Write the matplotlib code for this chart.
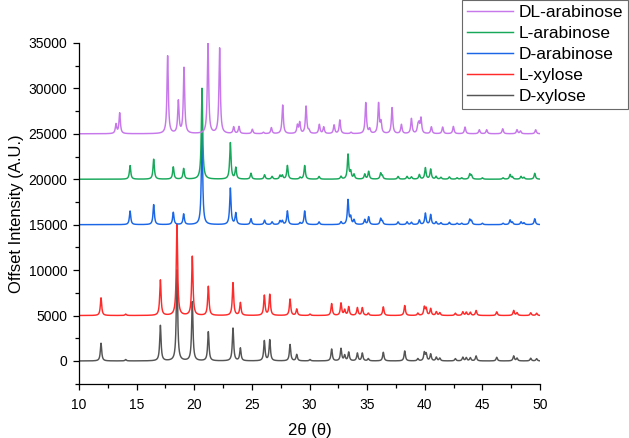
import matplotlib
matplotlib.use('Agg')
import matplotlib.pyplot as plt
import numpy as np
from matplotlib.ticker import MultipleLocator

plt.rcParams['font.family'] = ['Liberation Sans', 'DejaVu Sans']

# peak positions (2theta, deg) and heights (A.U.)
# D- and L-xylose give the same pattern, so do D- and L-arabinose
xylose_pos = [11.91, 14.05, 17.06, 18.50, 19.83, 21.22, 23.36, 24.00, 26.08, 26.55,
              28.31, 28.89, 30.04, 31.92, 32.73, 33.05, 33.40, 34.15, 34.58, 35.10,
              36.40, 38.26, 39.40, 39.96, 40.12, 40.51, 41.00, 41.30, 42.65, 43.30,
              43.60, 43.95, 44.45, 46.24, 47.71, 48.00, 49.19, 49.70]
xylose_int = [1950, 150, 3900, 10000, 6500, 3200, 3600, 1400, 2200, 2300,
              1800, 700, 150, 1300, 1350, 600, 950, 850, 850, 250,
              950, 1100, 250, 900, 750, 750, 400, 300, 250, 400,
              350, 350, 550, 400, 550, 300, 300, 250]

arabinose_pos = [14.43, 16.48, 18.18, 19.08, 20.67, 23.13, 23.60, 24.92, 26.10, 26.75,
                 27.44, 27.64, 28.08, 29.18, 29.58, 30.83, 32.73, 33.34, 33.57, 33.86,
                 34.79, 35.13, 36.17, 36.32, 37.68, 38.46, 38.84, 39.53, 40.05, 40.51,
                 40.98, 41.40, 42.13, 42.80, 43.20, 43.90, 44.05, 45.00, 46.79, 47.40,
                 47.60, 48.35, 48.60, 49.54]
arabinose_int = [1500, 2200, 1350, 1170, 10000, 4000, 1250, 650, 480, 300,
                 400, 400, 1500, 200, 1500, 300, 300, 2700, 800, 500,
                 550, 850, 650, 350, 300, 300, 250, 500, 1250, 1100,
                 300, 200, 250, 150, 150, 550, 400, 150, 150, 500,
                 250, 300, 200, 650]

dl_arabinose_pos = [13.21, 13.53, 17.69, 18.62, 19.11, 21.19, 22.20, 23.42, 23.88, 25.04,
                    26.00, 26.69, 27.67, 28.95, 29.15, 29.70, 29.95, 30.85, 31.23, 32.13,
                    32.63, 33.60, 34.88, 35.22, 35.99, 36.20, 37.16, 37.97, 38.84, 39.40,
                    39.50, 39.67, 40.57, 41.55, 42.48, 43.49, 44.73, 45.37, 46.76, 48.00,
                    48.30, 49.62]
dl_arabinose_int = [1030, 2270, 8550, 3540, 7220, 9950, 9400, 730, 770, 480,
                    150, 660, 3150, 900, 1200, 3000, 300, 1000, 730, 950,
                    1500, 150, 3400, 500, 3300, 1200, 2850, 1000, 1650, 800,
                    900, 1650, 750, 730, 800, 730, 440, 440, 550, 440,
                    300, 440]

labels = ['D-xylose', 'L-xylose', 'D-arabinose', 'L-arabinose', 'DL-arabinose']
offsets = [0, 5000, 15000, 20000, 25000]
colors = ['#555555', '#ff2a2a', '#1a66e6', '#17a85a', '#c778ea']
patterns = [(xylose_pos, xylose_int), (xylose_pos, xylose_int),
            (arabinose_pos, arabinose_int), (arabinose_pos, arabinose_int),
            (dl_arabinose_pos, dl_arabinose_int)]


def profile(two_theta, pos, heights, fwhm=0.14):
    # sum of Lorentzian peaks
    g = fwhm / 2
    y = np.zeros_like(two_theta)
    for p, h in zip(pos, heights):
        y += h * g**2 / ((two_theta - p)**2 + g**2)
    return y


two_theta = np.linspace(10, 50, 4001)

fig = plt.figure(figsize=(6.29, 4.38), dpi=100)
ax = fig.add_axes([0.1256, 0.124, 0.733, 0.778])

lines = []
for (pos, hts), off, col, lab in zip(patterns, offsets, colors, labels):
    l, = ax.plot(two_theta, profile(two_theta, pos, hts) + off, color=col, lw=1.05, label=lab)
    lines.append(l)

ax.set_xlim(10, 50)
ax.set_ylim(-2500, 35000)
ax.xaxis.set_major_locator(MultipleLocator(5))
ax.xaxis.set_minor_locator(MultipleLocator(2.5))
ax.yaxis.set_major_locator(MultipleLocator(5000))
ax.yaxis.set_minor_locator(MultipleLocator(2500))
ax.tick_params(which='major', direction='out', length=4.5, width=0.9, labelsize=10)
ax.tick_params(which='minor', direction='out', length=3, width=0.9)
ax.tick_params(axis='x', which='major', pad=6)
ax.tick_params(axis='y', which='major', pad=4)
ax.spines['top'].set_visible(False)
ax.spines['right'].set_visible(False)
for s in ['left', 'bottom']:
    ax.spines[s].set_linewidth(0.9)

ax.set_xlabel('2θ (θ)', fontsize=12, labelpad=8)
ax.set_ylabel('Offset Intensity (A.U.)', fontsize=12, labelpad=3)

leg = fig.legend(lines[::-1], labels[::-1], loc='upper right', bbox_to_anchor=(0.999, 1.0),
                 fontsize=12.5, frameon=True, fancybox=False, edgecolor='#444444',
                 handlelength=2.6, handletextpad=0.35, labelspacing=0.33,
                 borderpad=0.3, borderaxespad=0)
leg.get_frame().set_linewidth(0.8)

fig.savefig('out.png', dpi=100)
